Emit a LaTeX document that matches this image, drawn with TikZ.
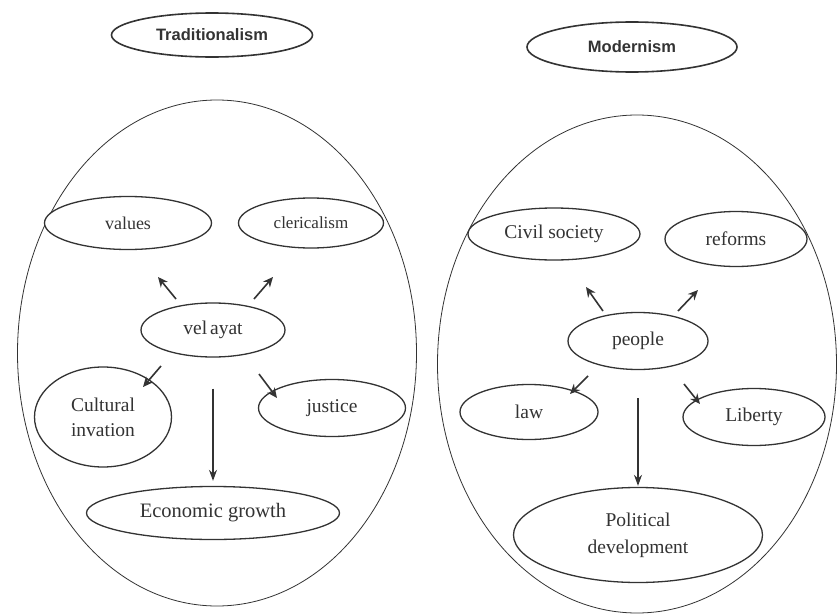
\documentclass[tikz,border=0pt]{standalone}
\usepackage{fontspec}
\setmainfont{Liberation Serif}
\newfontfamily\titlefont{Liberation Sans}
\usetikzlibrary{shapes.geometric,arrows.meta}
\definecolor{ink}{HTML}{333333}
\tikzset{
  big/.style={draw=ink, line width=0.8pt, ellipse, inner sep=0pt},
  oval/.style={draw=ink, line width=1.3pt, ellipse, inner sep=0pt, fill=white,
    text=ink, align=center, font=\fontsize{19.5}{25}\selectfont},
  ttl/.style={oval, line width=1.6pt, font=\titlefont\bfseries\fontsize{16.5}{18}\selectfont},
  arr/.style={draw=ink, line width=1.6pt, -{Stealth[length=10pt,width=9pt]}},
  longarr/.style={draw=ink, line width=1.4pt, -{Stealth[length=11pt,width=8pt]}}
}
\begin{document}
\begin{tikzpicture}[x=1pt,y=-1pt]
\fill[white] (0,0) rectangle (839,616);
\useasboundingbox (0,0) rectangle (839,616);

% big containers
\node[big, minimum width=399, minimum height=506] (L) at (217,353) {};
\node[big, minimum width=399, minimum height=498] (R) at (637,364) {};

% titles
\node[ttl, minimum width=201, minimum height=44] (trad) at (212,35) {Traditionalism};
\node[ttl, minimum width=210, minimum height=50] (mod) at (632,47) {Modernism};

% left side
\node[oval, minimum width=167, minimum height=53, font=\fontsize{18}{20}\selectfont] (values) at (128,223) {values};
\node[oval, minimum width=145, minimum height=50, font=\fontsize{17}{20}\selectfont] (cler) at (311,223) {clericalism};
\node[oval, minimum width=144, minimum height=54] (velayat) at (213,330) {vel\hspace{3pt}ayat};
\node[oval, minimum width=137, minimum height=100] (cult) at (103,417) {Cultural\\invation};
\node[oval, minimum width=147, minimum height=57] (just) at (332,408) {justice};
\node[oval, minimum width=253, minimum height=53, font=\fontsize{20.5}{25}\selectfont] (eco) at (213,513) {Economic growth};

% right side
\node[oval, minimum width=172, minimum height=52] (civil) at (554,234) {Civil society};
\node[oval, minimum width=142, minimum height=55] (ref) at (736,239) {reforms};
\node[oval, minimum width=140, minimum height=57] (people) at (638,341) {people};
\node[oval, minimum width=138, minimum height=55] (law) at (529,412) {law};
\node[oval, minimum width=142, minimum height=57] (lib) at (754,417) {Liberty};
\node[oval, minimum width=249, minimum height=95, font=\fontsize{19.5}{27}\selectfont] (pol) at (638,535) {Political\\development};

% short arrow ends (left)
\coordinate (v1s) at (176,299); \coordinate (v1e) at (158,277);
\coordinate (v2s) at (254,299); \coordinate (v2e) at (273,277);
\coordinate (v3s) at (161,366); \coordinate (v3e) at (143,387);
\coordinate (v4s) at (259,374); \coordinate (v4e) at (277,398);
% short arrow ends (right)
\coordinate (p1s) at (603,311); \coordinate (p1e) at (586,287);
\coordinate (p2s) at (678,311); \coordinate (p2e) at (698,290);
\coordinate (p3s) at (588,376); \coordinate (p3e) at (570,394);
\coordinate (p4s) at (684,384); \coordinate (p4e) at (700,404);

\draw[arr] (v1s) -- (v1e);
\draw[arr] (v2s) -- (v2e);
\draw[arr] (v3s) -- (v3e);
\draw[arr] (v4s) -- (v4e);
\draw[arr] (p1s) -- (p1e);
\draw[arr] (p2s) -- (p2e);
\draw[arr] (p3s) -- (p3e);
\draw[arr] (p4s) -- (p4e);

\draw[longarr, shorten <=31pt, shorten >=5pt] (velayat.south) -- (eco.north);
\draw[longarr, shorten <=28pt, shorten >=1pt] (people.south) -- (pol.north);
\end{tikzpicture}
\end{document}
